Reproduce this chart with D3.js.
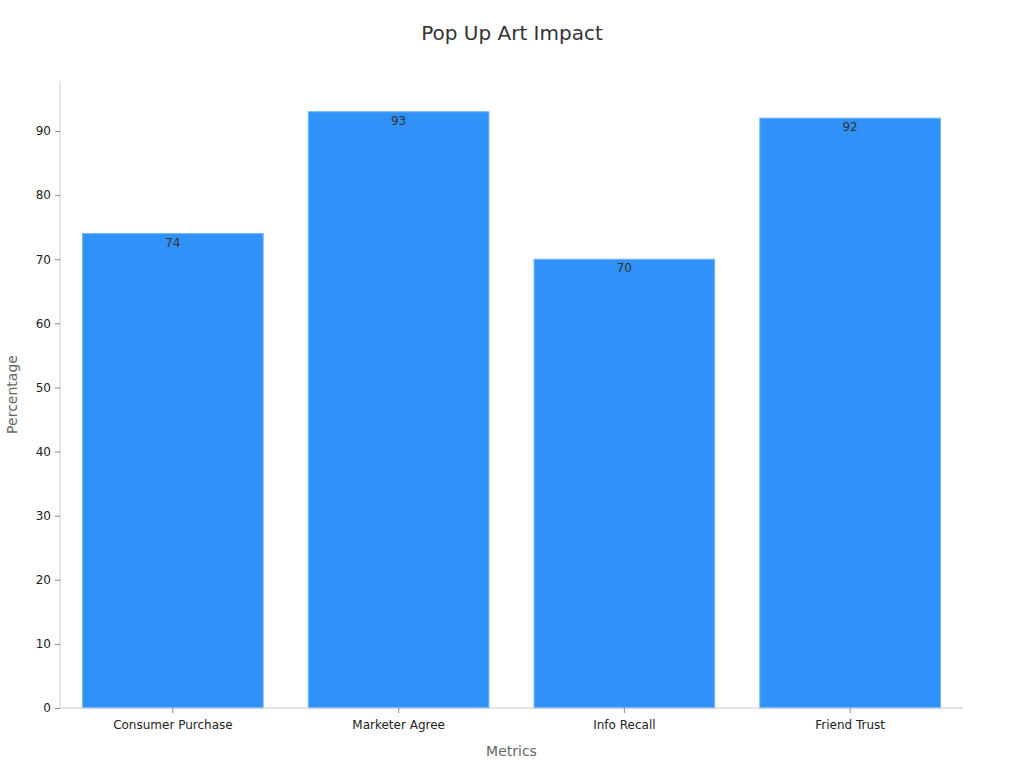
<!DOCTYPE html>
<html>
<head>
<meta charset="utf-8">
<script src="https://cdn.jsdelivr.net/npm/d3@7"></script>
<style>
  body { margin: 0; background: #fff; }
  text { font-family: "DejaVu Sans", sans-serif; }
</style>
</head>
<body>
<svg id="chart" width="1024" height="768"></svg>
<script>
var categories = ["Consumer Purchase", "Marketer Agree", "Info Recall", "Friend Trust"];
var values = [74, 93, 70, 92];
var yTicks = [0, 10, 20, 30, 40, 50, 60, 70, 80, 90];

var svg = d3.select("#chart");
var margin = {left: 60, right: 61, top: 81, bottom: 60};
var width = 1024 - margin.left - margin.right;
var height = 768 - margin.top - margin.bottom;

var g = svg.append("g").attr("transform", "translate(" + margin.left + "," + margin.top + ")");

var x = d3.scaleBand().domain(categories).range([0, width]).paddingInner(0.2).paddingOuter(0.1);
var y = d3.scaleLinear().domain([0, 97.8]).range([height, 0]);

// bars
g.selectAll("rect.bar").data(values).enter().append("rect")
	.attr("class", "bar")
	.attr("x", function(d, i){ return x(categories[i]); })
	.attr("y", function(d){ return y(d); })
	.attr("width", x.bandwidth())
	.attr("height", function(d){ return height - y(d); })
	.attr("fill", "#3092f8")
	.attr("stroke", "#6fb3fa")
	.attr("stroke-width", 1);

// value labels
g.selectAll("text.val").data(values).enter().append("text")
	.attr("class", "val")
	.attr("x", function(d, i){ return x(categories[i]) + x.bandwidth() / 2; })
	.attr("y", function(d){ return y(d) + 13; })
	.attr("text-anchor", "middle")
	.attr("font-size", 12)
	.attr("fill", "#333")
	.text(function(d){ return d; });

// axes
var yAxis = g.append("g").call(d3.axisLeft(y).tickValues(yTicks).tickSize(5).tickPadding(4));
var xAxis = g.append("g").attr("transform", "translate(0," + height + ")")
	.call(d3.axisBottom(x).tickSize(5).tickPadding(7));

[yAxis, xAxis].forEach(function(a){
	a.select(".domain").attr("stroke", "#ccc");
	a.selectAll(".tick line").attr("stroke", "#888");
	a.selectAll(".tick text").attr("fill", "#222").attr("font-size", 12)
		.attr("font-family", "DejaVu Sans, sans-serif");
});
// domain lines without end ticks
yAxis.select(".domain").attr("d", "M0," + height + "V0");
xAxis.select(".domain").attr("d", "M0,0H" + width);

// title
svg.append("text")
	.attr("x", 512).attr("y", 40)
	.attr("text-anchor", "middle")
	.attr("font-size", 20)
	.attr("fill", "#333")
	.text("Pop Up Art Impact");

// axis titles
svg.append("text")
	.attr("x", margin.left + width / 2).attr("y", 756)
	.attr("text-anchor", "middle")
	.attr("font-size", 14)
	.attr("fill", "#666")
	.text("Metrics");

svg.append("text")
	.attr("transform", "translate(17," + (margin.top + height / 2) + ") rotate(-90)")
	.attr("text-anchor", "middle")
	.attr("font-size", 14)
	.attr("fill", "#666")
	.text("Percentage");
</script>
</body>
</html>
